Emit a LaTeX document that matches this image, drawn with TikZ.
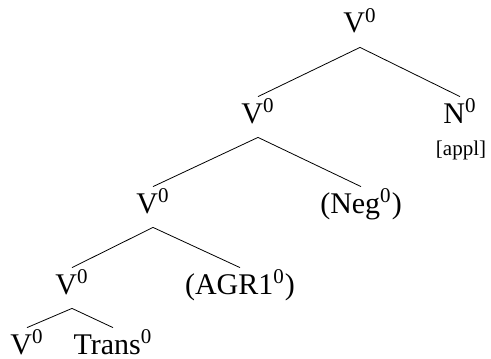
\documentclass[tikz,border=0pt]{standalone}
\usepackage{fontspec}
\setmainfont{Liberation Serif}
\tikzset{lbl/.style={inner sep=0pt, text height=13pt, text depth=7pt, anchor=base}}
\newcommand{\hd}[1]{#1\textsuperscript{0}}

\begin{document}
\begin{tikzpicture}[x=0.5pt, y=-0.5pt, font=\fontsize{15}{18}\selectfont]
  \useasboundingbox (0,0) rectangle (491,358);
  
  \node[lbl] (v1) at (360,33) {\hd{V}};
  
  \node[lbl] (v2) at (258,123) {\hd{V}};
  \node[lbl] (n) at (460,123) {\hd{N}};
  \node[anchor=base, inner sep=0pt, font=\fontsize{10.5}{12}\selectfont] (appl) at (461,155) {[appl]};
  
  \node[lbl] (v3) at (153,213) {\hd{V}};
  \node[lbl] (neg) at (361,213) {(\hd{Neg})};
  
  \node[lbl] (v4) at (72,294) {\hd{V}};
  \node[lbl] (agr) at (240,294) {(\hd{AGR1})};
  
  \node[lbl] (v5) at (27,354) {\hd{V}};
  \node[lbl] (trans) at (113,354) {\hd{Trans}};
  
  \draw (v1.south) -- (v2.north);
  \draw (v1.south) -- (n.north);
  \draw (v2.south) -- (v3.north);
  \draw (v2.south) -- (neg.north);
  \draw (v3.south) -- (v4.north);
  \draw (v3.south) -- (agr.north);
  \draw (v4.south) -- (v5.north);
  \draw (v4.south) -- (trans.north);
\end{tikzpicture}
\end{document}
